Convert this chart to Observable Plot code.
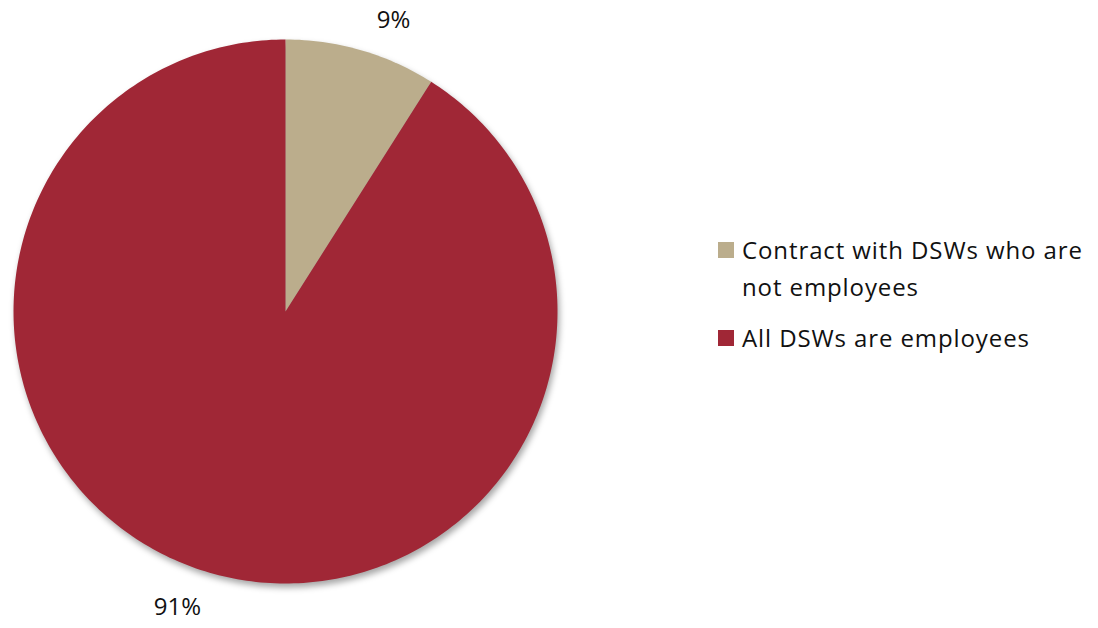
<!DOCTYPE html>
<html>
<head>
<meta charset="utf-8">
<script src="https://cdn.jsdelivr.net/npm/d3@7"></script>
<script src="https://cdn.jsdelivr.net/npm/@observablehq/plot@0.6"></script>
<style>
  html, body { margin: 0; padding: 0; background: #fff; }
  #wrap { position: relative; width: 1098px; height: 628px; font-family: "Open Sans", sans-serif; }
  #legend { position: absolute; left: 718px; top: 231px; font-size: 24px; letter-spacing: 0.9px; color: #111; line-height: 37px; }
  .item { display: flex; align-items: flex-start; margin-bottom: 14px; }
  .sw { width: 16px; height: 16px; margin-top: 11px; margin-right: 8px; flex: none; }
  #chart .slices { filter: drop-shadow(2px 4px 3px rgba(0,0,0,0.35)); }
</style>
</head>
<body>
<div id="wrap">
  <div id="chart"></div>
  <div id="legend"></div>
</div>
<script>
const categories = ["Contract with DSWs who are not employees", "All DSWs are employees"];
const legendLines = [["Contract with DSWs who are", "not employees"], ["All DSWs are employees"]];
const values = [9, 91];
const labels = ["9%", "91%"];
const colors = ["#BBAD8C", "#A02736"];

const total = d3.sum(values);
const pts = [];
const labelPts = [];
let start = 0;
values.forEach((v, i) => {
  const a0 = start / total * 2 * Math.PI;
  const a1 = (start + v) / total * 2 * Math.PI;
  const n = Math.max(4, Math.ceil((a1 - a0) / (Math.PI / 180)));
  pts.push({key: categories[i], x: 0, y: 0});
  for (let k = 0; k <= n; k++) {
    const a = a0 + (a1 - a0) * k / n;
    pts.push({key: categories[i], x: Math.sin(a), y: Math.cos(a)});
  }
  pts.push({key: categories[i], x: 0, y: 0});
  const am = (a0 + a1) / 2 + 0.07;
  labelPts.push({label: labels[i], x: 1.15 * Math.sin(am), y: 1.15 * Math.cos(am)});
  start += v;
});

const chart = Plot.plot({
  width: 1098,
  height: 628,
  marginLeft: 13,
  marginRight: 541,
  marginTop: 39,
  marginBottom: 45,
  x: {domain: [-1, 1], axis: null},
  y: {domain: [-1, 1], axis: null},
  color: {domain: categories, range: colors},
  style: {fontFamily: "Open Sans, sans-serif", background: "white"},
  marks: [
    Plot.line(pts, {x: "x", y: "y", z: "key", fill: "key", stroke: "none", curve: "linear", className: "slices"}),
    Plot.text(labelPts, {x: "x", y: "y", text: "label", fontSize: 24, dy: 2, fill: "#111"})
  ]
});
document.getElementById("chart").appendChild(chart);

const legend = d3.select("#legend");
categories.forEach((c, i) => {
  const item = legend.append("div").attr("class", "item");
  item.append("div").attr("class", "sw").style("background", colors[i]);
  const t = item.append("div");
  legendLines[i].forEach(l => t.append("div").text(l));
});
</script>
</body>
</html>
